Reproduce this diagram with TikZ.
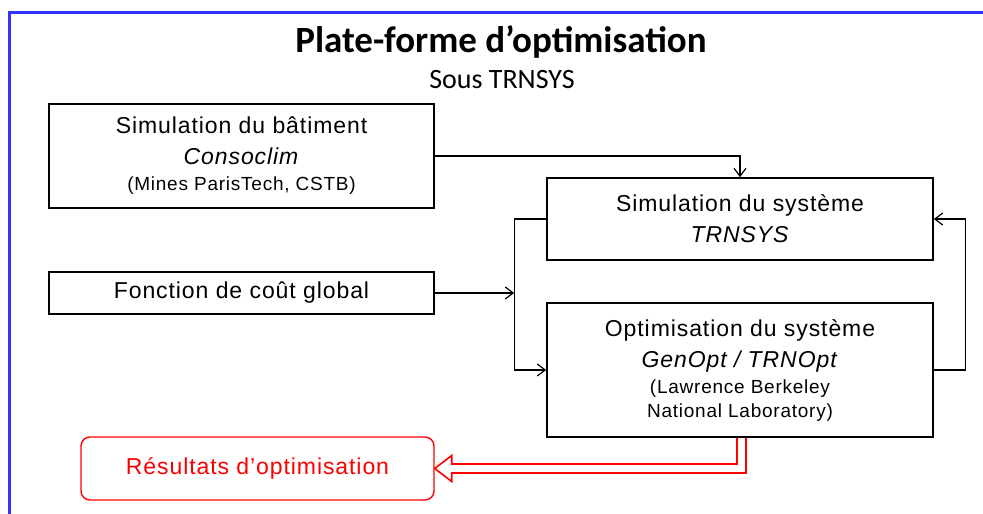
\documentclass[tikz,border=0pt]{standalone}
\usepackage{fontspec}
\setmainfont{Liberation Sans}
\newfontfamily\boxfont[LetterSpace=4]{Liberation Sans}
\newfontfamily\headfont{Carlito}
\usetikzlibrary{arrows.meta,calc}
\definecolor{frameblue}{RGB}{51,51,255}
\newcommand{\mainsz}{\fontsize{23}{31}\selectfont}
\newcommand{\notesz}{\fontsize{19}{25}\selectfont}
\tikzset{
  block/.style={
    rectangle,
    draw=black,
    line width=1.6pt,
    fill=white,
    align=center,
    inner sep=0pt,
    font=\boxfont\mainsz
  },
  resblock/.style={
    block,
    draw=red,
    text=red,
    line width=1.4pt,
    rounded corners=9pt
  },
  arrow/.style={
    -{Straight Barb[length=8pt,width=12pt,line width=1.2pt]},
    line width=1.2pt,
    draw=black
  },
  resarrow/.style={
    line width=1.6pt,
    draw=red,
    line join=miter
  },
  frameline/.style={
    line width=3pt,
    draw=frameblue
  }
}

\begin{document}
\begin{tikzpicture}[x=1pt,y=-1pt]
  \useasboundingbox (0,0) rectangle (983,514);
  \draw[frameline] (9,514) -- (9,12) -- (983,12);

  \node[anchor=base, font=\headfont\bfseries\fontsize{37}{40}\selectfont] (title) at (501,52) {Plate-forme d’optimisation};
  \node[anchor=base, font=\headfont\fontsize{28}{30}\selectfont] (sub) at (502,88) {Sous TRNSYS};

  \node[block, minimum width=385pt, minimum height=104pt] (bat) at (241.5,156) {Simulation du bâtiment\\\textit{Consoclim}\\[-5pt]{\notesz (Mines ParisTech, CSTB)}};
  \node[block, minimum width=385pt, minimum height=42pt] (cout) at (241.5,293) {Fonction de coût global};
  \node[block, minimum width=386pt, minimum height=82pt] (sys) at (740,219) {Simulation du système\\\textit{TRNSYS}};
  \node[block, minimum width=386pt, minimum height=134pt] (opt) at (740,370) {Optimisation du système\\\textit{GenOpt / TRNOpt}\\[-5pt]{\notesz (Lawrence Berkeley}\\[-7pt]{\notesz National Laboratory)}};
  \node[resblock, minimum width=353pt, minimum height=63pt] (res) at (257.5,468.5) {Résultats d’optimisation};

  \coordinate (lj) at ($(sys.west)+(-32,0)$);
  \coordinate (rj) at ($(opt.east)+(32,0)$);

  \draw[arrow] (bat.east) -| (sys.north);
  \draw[arrow] (sys.west) -- (lj) |- (opt.west);
  \draw[arrow] (cout.east) -- (cout.east -| lj);
  \draw[arrow] (opt.east) -- (rj) |- (sys.east);
  \draw[resarrow] ($(opt.south)+(-3,0)$) |- ($(res.east)+(17,-4.5)$) -- ++(0,-8.5) -- (res.east) -- ++(17,13) -- ++(0,-8.5) -| ($(opt.south)+(6,0)$);
\end{tikzpicture}
\end{document}
